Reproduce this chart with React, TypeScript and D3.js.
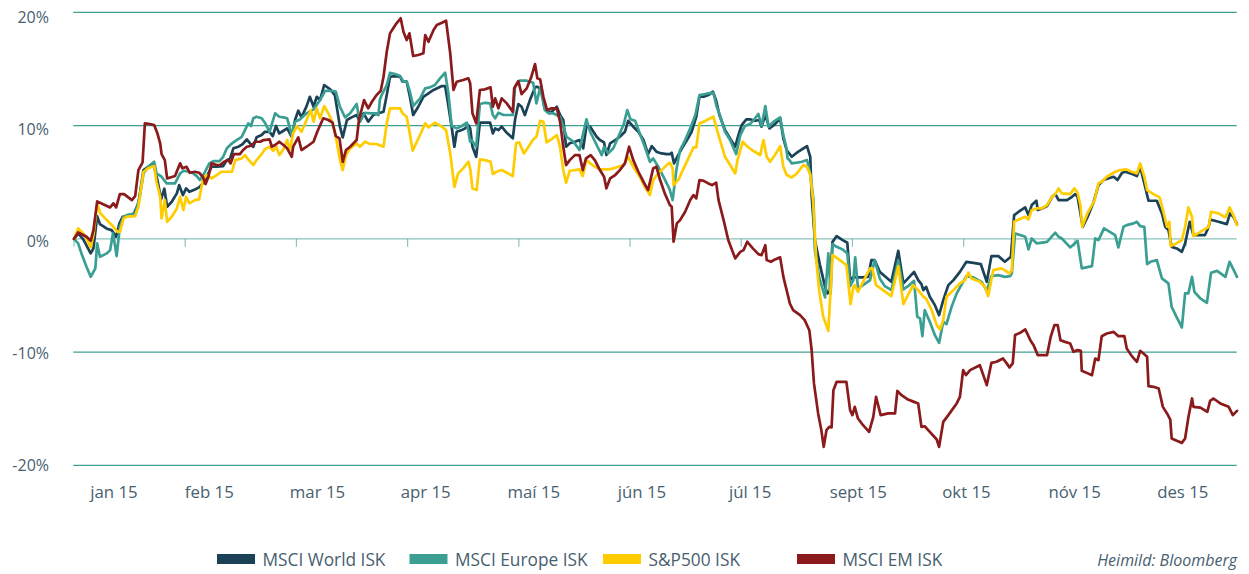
import React from 'react';
import * as d3 from 'd3';

const WIDTH = 1249;
const HEIGHT = 574;

const yTicks = [20, 10, 0, -10, -20];
const monthLabels = ['jan 15', 'feb 15', 'mar 15', 'apr 15', 'maí 15', 'jún 15', 'júl 15', 'sept 15', 'okt 15', 'nóv 15', 'des 15'];
const tickDays = [0, 24, 48, 72, 96, 120, 144, 168, 192, 216, 240];
const seriesNames = ['MSCI World ISK', 'MSCI Europe ISK', 'S&P500 ISK', 'MSCI EM ISK'];
const seriesColors = ['#1b4257', '#3a9f92', '#ffcc00', '#8a1a1b'];
const sourceText = 'Heimild: Bloomberg';

// [trading day, % change]
const msciWorld: [number, number][] = [
  [0,0],[0.9,0.47],[2,-0.06],[3.6,-1.29],[4.2,-0.85],[5,2.0],[5.6,1.3],[7.1,0.89],[8.1,0.77],[9.1,0.18],[9.8,1.36],[10.5,1.95],[12.8,2.09],[13.9,3.13],[15,6.07],[16,6.36],[17.1,6.66],[18,5.19],[18.8,3.48],[19.5,4.42],[20.1,2.83],[21.1,3.27],[22.2,4.01],[22.7,4.74],[23.5,3.86],[24.2,4.45],[24.9,4.15],[26.1,4.36],[27,4.54],[27.8,4.89],[28.3,5.19],[29,5.78],[29.7,6.36],[30.8,6.36],[32.2,6.42],[33,6.95],[33.7,7.1],[34.4,7.99],[35.5,8.13],[36.4,8.37],[37.3,8.78],[38,8.43],[38.7,8.13],[39.4,8.96],[40.5,9.16],[41.2,9.45],[42.2,9.45],
  [42.9,9.07],[43.6,9.96],[44.3,9.31],[45.2,9.54],[46,9.75],[47,9.01],[47.7,10.49],[48.4,11.31],[49.1,10.72],[50.2,11.72],[50.9,12.54],[51.7,11.66],[52.4,12.54],[53.1,12.25],[54,13.58],[55.3,13.2],[56.3,12.69],[57.4,9.9],[58,8.96],[58.9,10.49],[59.9,10.72],[61,10.93],[61.7,10.34],[62.5,11.08],[63.5,10.34],[64.6,10.93],[65.7,11.08],[66.8,11.22],[67.5,12.69],[68.2,14.31],[69.3,14.37],[70.4,14.31],[70.9,13.87],[71.8,13.87],[72.5,12.54],[73.2,10.93],[74.3,11.66],[75.4,12.54],[76.5,12.84],[77.6,13.14],[79.4,13.49],[80.1,13.49],[80.6,12.25],[81.5,9.9],[82.1,8.13],[82.6,9.45],[83.7,9.6],[84.4,9.75],[85.1,10.04],[85.5,9.75],
  [86,8.13],[86.8,7.24],[87.6,10.25],[88.7,10.25],[89.8,10.25],[90.4,9.31],[90.9,9.75],[91.6,9.6],[92.3,9.9],[93.4,9.36],[94.7,8.87],[95.2,10.55],[95.9,11.9],[96.6,11.66],[97.3,10.93],[98.4,12.25],[99.5,13.37],[100,13.43],[100.9,13.14],[101.6,11.52],[102.4,11.22],[103.1,11.22],[104.2,11.66],[104.9,10.93],[105.6,10.49],[106.2,8.13],[107,8.43],[108.1,8.57],[109.1,8.72],[109.9,7.99],[110.6,9.96],[111.4,9.9],[112.1,9.45],[112.8,9.01],[113.5,8.72],[114.4,8.51],[114.9,7.39],[115.7,8.43],[116.8,8.72],[117.8,9.01],[118.9,9.45],[119.6,10.41],[120.7,9.9],[121.8,9.45],[122.9,8.72],[123.9,7.48],[124.7,8.19],[125.7,7.69],[126.8,7.54],[127.9,7.48],[128.6,7.48],
  [129,7.6],[129.5,6.66],[130.2,7.24],[131.2,7.99],[132.3,8.72],[133.3,9.45],[134.3,10.78],[135,12.61],[135.9,12.54],[136.9,12.69],[137.9,12.99],[138.6,12.19],[139.3,10.93],[140.5,9.6],[141.6,8.87],[142.7,8.13],[143.4,9.16],[144.1,10.04],[145.1,10.55],[145.9,10.55],[147,10.42],[147.9,10.49],[148.4,9.9],[149.2,10.93],[150.1,9.75],[151.3,10.13],[152.4,10.64],[153.1,8.87],[153.8,7.84],[154.9,7.24],[156,7.6],[157.1,7.9],[158.2,8.19],[158.9,7.24],[159.2,3.8],[159.9,-0.11],[161,-2.32],[162.1,-4.24],[162.6,-4.82],[163.1,-4.68],[163.7,-0.27],[164.6,0.24],[165.9,-0.11],[166.9,-0.35],[167.5,-3.65],[168.2,-3.36],[168.9,-3.41],[170,-3.41],[171.4,-3.36],[172.1,-1.88],[172.8,-1.88],[173.9,-2.92],[175,-3.3],[176.4,-3.8],[177.9,-1.06],[179,-3.94],[180,-3.5],[181.3,-2.92],[182.2,-3.65],[182.9,-4.0],[183.3,-4.53],[183.9,-4.24],[184.7,-5.12],[185.8,-5.86],[186.7,-6.74],[187.6,-5.42],[188.7,-4.09],[189.8,-3.65],[191.2,-2.92],[192.6,-2.03],[194.1,-2.12],[195.7,-2.23],[197,-3.8],[198,-1.53],[199.5,-1.53],[200.9,-2.03],[202.2,-1.59],
  [202.9,2.09],[203.9,2.39],[205.3,2.77],[206,2.09],[206.7,2.98],[207.7,3.36],[208,2.54],[208.9,2.68],[210,2.89],[211.1,3.71],[211.8,3.95],[212.5,3.42],[214.3,3.42],[215.4,3.71],[216.1,3.95],[216.6,3.71],[217.7,1.06],[218.7,1.89],[220,3.18],[221.1,4.74],[222.2,5.19],[223.3,5.34],[224.4,5.48],[225.2,5.19],[226.2,5.83],[226.9,5.92],[228,5.78],[229.4,5.54],[230.1,6.36],[231,4.89],[231.9,3.36],[233.7,3.36],[234.8,2.24],[235.5,1.06],[236.2,0.77],[236.9,-0.71],[238,-0.85],[239.1,-1.15],[239.8,-0.41],[240.8,1.5],[241.6,0.33],[243.1,0.33],[244.1,0.33],[244.9,1.06],[245.2,1.71],[247,1.5],[248.8,1.3],[249.5,2.24],[250.3,1.89],[251,1.3],
];

const msciEurope: [number, number][] = [
  [0,0],[0.9,-0.41],[1.6,-1.29],[2.7,-2.47],[3.6,-3.36],[4.6,-2.62],[5,-0.41],[5.6,-1.59],[7.1,-1.29],[7.8,-1.0],[8.4,0.47],[8.9,-0.71],[9.2,-1.53],[9.9,1.06],[10.7,1.95],[11.4,2.09],[13.2,2.24],[14.2,3.71],[15,5.78],[16,6.36],[17.3,6.8],[17.8,5.78],[18.9,5.48],[20,4.89],[21.8,4.89],[22.9,5.78],[23.7,6.01],[24.7,5.92],[25.7,5.78],[26.5,5.54],[27.2,5.19],[28.1,5.78],[29.2,6.66],[30.1,6.86],[31.4,6.86],[32.2,7.24],[33,7.99],[34.1,8.43],[35.1,8.72],[36.2,9.01],[36.9,9.6],[37.6,10.19],[38.2,9.96],[38.7,10.64],[39.4,10.78],[40.5,10.64],[41.2,10.25],[42.2,9.45],
  [43.4,11.08],[44.3,10.78],[45.2,10.72],[46,10.64],[47,9.16],[47.7,10.34],[48.8,10.55],[50.2,11.08],[51.7,11.43],[53.1,12.25],[54.2,13.07],[55.6,13.07],[56.5,12.99],[57.4,11.66],[58.5,10.72],[59.6,11.08],[61,11.9],[61.7,10.34],[62.8,11.13],[63.9,11.08],[65,11.08],[65.7,10.93],[66,12.25],[66.4,12.69],[67.5,13.58],[68.2,14.66],[69.3,14.55],[70.4,14.37],[71.1,13.87],[71.8,13.87],[72.5,12.99],[73.2,11.72],[74.7,12.4],[75.8,13.29],[76.8,13.37],[77.9,13.58],[79,14.17],[80.1,14.66],[80.8,12.84],[81.5,9.96],[82.6,9.75],[83.7,9.96],[84.8,10.25],[85.5,8.57],
  [85.8,8.72],[86.8,8.13],[87.6,11.9],[88.7,12.01],[89.8,11.96],[90.4,10.93],[90.9,10.64],[91.6,11.13],[92.7,10.93],[94.7,10.93],[95.2,13.43],[96.2,13.96],[97.7,13.96],[99.1,13.78],[99.8,11.96],[100.6,13.37],[101.6,11.37],[102.4,11.08],[103.4,11.08],[104.9,10.78],[105.6,9.96],[106.3,9.01],[107.8,8.57],[109.1,7.84],[109.9,9.31],[110.6,10.55],[111.4,9.45],[112.8,8.28],[113.9,7.39],[114.4,8.13],[115.3,7.54],[116.4,7.99],[117.8,9.31],[118.7,10.19],[119.4,11.37],[120.1,10.55],[121.1,10.42],[122.1,9.31],[123.2,8.13],[124.3,6.8],[125,7.1],[126.1,6.36],[127.2,5.48],[128.3,4.59],[128.6,4.3],
  [129.2,3.42],[130,6.07],[130.8,7.84],[131.9,8.72],[133,9.75],[134.1,10.93],[135,12.69],[136.2,12.78],[136.9,12.84],[138,12.9],[138.7,11.66],[139.4,10.93],[140.5,9.45],[141.6,8.72],[142.9,7.48],[143.8,9.16],[144.8,9.96],[145.9,10.13],[147,10.64],[147.7,11.02],[148.4,9.96],[149.2,11.72],[149.9,9.9],[151,10.34],[152.4,10.72],[153,9.31],[153.7,8.13],[154,7.1],[154.4,6.95],[154.9,6.66],[156,6.72],[157.1,6.8],[158.2,6.95],[158.9,5.77],[159.6,3.42],[159.9,-1.0],[160.8,-3.36],[162.1,-5.18],[162.8,-1.29],[163.3,-4.82],[163.7,-0.47],[164.6,-0.71],[165.9,-0.94],[166.9,-1.29],[167.5,-4.18],[168.2,-3.65],[168.6,-1.64],[169.2,-4.38],[170.3,-4.09],[171.8,-3.65],[172.8,-1.88],[173.9,-3.5],[175,-4.18],[176.4,-4.53],[177.9,-1.94],[179,-4.47],[180,-4.18],[181.3,-3.71],[182,-6.89],[182.6,-7.03],[183.1,-8.6],[183.6,-6.3],[184.7,-7.33],[185.8,-8.51],[186.7,-9.19],[187.6,-7.33],[188.3,-7.54],[189.4,-6.01],[190.5,-4.82],[191.5,-4.09],[192.6,-3.3],[194.1,-3.41],[195.9,-3.8],[197,-4.59],[198,-3.3],[199.5,-3.21],[200.9,-3.36],[202,-3.3],
  [202.4,-3.06],[203.1,0.47],[204.2,0.33],[205.3,0.18],[206,-0.94],[206.7,0.03],[207.8,-0.41],[210,-0.27],[211.1,0.24],[211.8,0.53],[212.5,0.18],[213.2,0.03],[215,-0.76],[216.6,-0.18],[217.5,-2.61],[219.7,-2.41],[220.4,0.03],[221.1,-0.11],[222.3,0.92],[224.7,0.33],[225.4,-0.76],[226.5,1.06],[227.2,1.21],[228.7,1.36],[229.4,1.5],[230.1,1.12],[231,1.06],[231.6,-2.23],[232.3,-2.03],[233.7,-1.88],[234.8,-3.5],[236.2,-3.94],[236.9,-6.01],[238,-6.94],[239.1,-7.83],[239.8,-4.82],[240.5,-4.82],[241.3,-3.36],[241.8,-4.68],[243.1,-5.27],[244.5,-5.65],[245.4,-3.0],[246.7,-2.83],[248.5,-3.36],[249.4,-2.03],[250.3,-2.77],[251,-3.36],
];

const sp500: [number, number][] = [
  [0,0],[0.9,0.92],[2,0.47],[2.7,0.03],[3.6,-0.76],[4.2,0.33],[5,3.07],[5.7,2.24],[7.1,1.65],[8.5,1.06],[9.4,0.62],[9.9,0.62],[10.7,1.8],[11.4,1.95],[13.2,2.01],[13.9,2.83],[15,5.92],[16,6.22],[17.3,6.42],[17.8,5.04],[18.6,3.71],[18.9,1.8],[19.6,3.42],[20.1,1.5],[21.1,1.95],[22.2,2.68],[22.9,3.71],[23.6,2.54],[24.2,3.71],[24.9,3.13],[26.1,3.42],[27,3.48],[27.8,5.19],[28.6,5.63],[29.7,5.33],[30.8,5.63],[31.8,5.92],[34.1,5.92],[34.8,6.95],[36.2,7.1],[36.9,7.39],[37.6,7.01],[38.7,6.51],[39.4,6.95],[40.5,7.48],[41.2,7.9],[42.2,8.13],
  [43,7.77],[43.7,8.13],[44.3,7.39],[45.2,7.9],[46,8.72],[46.6,7.84],[47.3,9.31],[48.1,9.96],[49.1,9.45],[50.2,10.49],[51.1,11.37],[51.7,10.34],[52.4,11.52],[53.1,10.64],[54,11.72],[54.9,11.08],[55.8,10.25],[56.5,9.01],[57.4,6.95],[58,6.07],[58.7,7.39],[59.6,7.99],[61,8.43],[61.7,8.13],[62.8,8.57],[63.9,8.37],[65.3,8.37],[66.8,8.13],[67.5,10.19],[68.2,11.52],[70.4,11.52],[70.9,11.08],[71.8,10.78],[72.4,9.45],[73.1,7.77],[74,8.57],[75,9.45],[75.8,10.19],[76.5,9.84],[77.9,10.25],[79.4,9.9],[80.3,9.6],[81.2,7.54],[82.1,4.59],[82.9,5.78],[84,6.22],[85.1,6.8],[85.5,6.22],
  [86,4.45],[86.9,4.3],[87.6,7.01],[88.7,6.95],[89.9,6.8],[90.4,5.72],[91.2,5.92],[92.3,6.07],[93.4,5.83],[94.7,5.54],[95.4,8.43],[96.1,8.51],[97.1,7.54],[98.1,8.13],[99,8.72],[99.8,9.01],[100.6,10.42],[101.3,10.34],[102,8.51],[103.1,8.8],[104.2,9.16],[104.9,8.13],[105.6,6.07],[106.2,4.95],[107,6.01],[108.1,6.07],[109.1,6.13],[109.8,5.54],[110.6,7.01],[111.4,6.66],[112.4,6.36],[113.5,6.13],[115.3,6.13],[116.4,6.22],[117.5,6.36],[118.6,6.51],[119.6,7.24],[120.7,6.36],[122.1,5.48],[123.2,4.59],[124.3,3.86],[125,5.19],[126.1,5.78],[127.2,6.22],[128.3,6.66],[128.6,6.72],
  [129.2,6.22],[129.4,4.74],[130.5,5.24],[131.4,6.07],[132.6,7.1],[133.7,8.07],[134.3,8.07],[135,10.19],[135.9,10.34],[136.9,10.55],[138,10.78],[139.1,9.16],[140.5,7.24],[141.6,6.51],[142.7,5.77],[143.2,6.95],[144.3,8.57],[145.2,8.19],[146.3,7.84],[148.1,7.4],[148.8,8.72],[149.5,7.24],[150.2,6.8],[151.3,7.4],[152.4,8.19],[153.1,6.36],[153.8,5.63],[154.9,5.42],[156,5.77],[157.4,6.51],[158.2,6.36],[158.9,5.63],[159.5,3.42],[160.2,-1.88],[160.8,-4.5],[161.7,-6.89],[162.8,-8.13],[163.7,-1.44],[165.3,-1.88],[166.7,-2.32],[167.6,-5.77],[168.2,-4.24],[168.5,-4.09],[169.2,-4.68],[170.3,-3.8],[171.8,-2.61],[172.3,-2.61],[173.1,-4.09],[174.6,-4.53],[176.4,-5.06],[177.9,-2.41],[179,-5.77],[180,-4.97],[181.1,-4.09],[182.2,-4.53],[183.3,-5.12],[183.9,-5.27],[185.1,-6.3],[186.2,-7.62],[186.9,-8.0],[187.6,-7.18],[188.3,-5.12],[189.8,-4.53],[191.2,-3.94],[192.3,-3.65],[193,-3.0],[193.7,-3.5],[195.5,-3.8],[196.6,-4.24],[197.3,-5.06],[198.4,-2.77],[200.2,-2.61],[201.9,-3.06],
  [202.4,-2.77],[202.9,1.5],[203.9,1.71],[205.3,1.94],[206,1.71],[206.7,2.54],[207.7,2.68],[208.9,2.68],[210,2.98],[211.1,3.71],[211.8,3.95],[212.5,4.45],[213.2,4.01],[215,3.95],[215.9,4.45],[216.6,4.06],[217.2,2.98],[217.6,1.06],[218.7,2.24],[220.2,3.36],[221.1,4.89],[221.8,5.04],[222.9,5.48],[224.7,5.92],[225.8,6.07],[227.1,6.13],[228.3,5.92],[229.4,5.78],[230.1,6.66],[231,5.48],[231.6,4.3],[233,3.95],[234.3,3.66],[235.2,2.24],[235.9,1.06],[236.4,1.5],[236.7,-0.64],[237.9,-0.41],[239.1,-0.11],[239.8,1.06],[240.5,2.77],[241.3,1.94],[241.6,0.24],[243.1,0.62],[244.9,1.06],[245.4,2.39],[247,2.24],[248.5,1.89],[249.4,2.77],[250.3,2.01],[251,1.21],
];

const msciEM: [number, number][] = [
  [0,0],[0.9,0.56],[2.7,0.18],[3.6,-0.18],[4.2,0.77],[5,3.3],[7.8,2.77],[8.5,3.13],[9.1,2.77],[9.9,3.95],[10.8,3.95],[12.5,3.42],[13.2,3.77],[13.9,6.07],[14.8,6.75],[15.3,10.19],[16.4,10.13],[17.3,10.04],[18,9.31],[18.6,8.43],[18.9,7.48],[19.6,6.95],[20.1,5.33],[21.8,5.54],[22.9,6.66],[23.4,6.22],[24.3,6.36],[25,5.83],[26.1,5.92],[27,5.83],[27.8,5.48],[28.4,4.83],[29,5.48],[29.7,6.66],[30.8,6.51],[31.5,6.51],[32.4,6.8],[33.3,6.95],[33.8,6.66],[34.5,7.48],[35.8,7.48],[36.5,7.84],[37.3,8.13],[38.3,8.22],[39.1,8.57],[40.2,8.57],[40.9,8.72],[42.2,8.78],
  [42.7,8.13],[43.4,8.28],[44.3,8.57],[45.2,8.28],[46,7.99],[47,7.24],[47.3,8.13],[48.4,8.96],[49.1,7.84],[50.2,8.13],[51.7,8.57],[52.5,9.45],[53.8,10.64],[54.9,10.49],[55.8,10.25],[56.5,9.07],[57.3,8.87],[58,6.8],[58.7,7.84],[59.6,8.13],[61,8.72],[61.5,10.49],[62.6,12.25],[63.5,11.52],[64.3,12.1],[65.3,12.69],[66.2,13.07],[66.8,14.31],[67.5,16.52],[68.2,18.14],[68.9,18.59],[69.6,19.03],[70.5,19.47],[71.1,18.29],[71.8,17.55],[72.4,18.14],[73.2,16.14],[74.3,16.23],[75.4,16.38],[75.8,17.99],[76.5,17.4],[77.6,18.44],[78.3,18.88],[79.4,19.08],[80.3,19.26],[81.2,16.38],[81.9,13.14],[82.6,13.87],[84,14.02],[85.1,14.17],[85.5,13.73],
  [86,11.08],[86.8,10.19],[87.6,13.14],[88.7,13.2],[89.9,13.37],[90.4,11.66],[90.9,12.4],[91.6,11.52],[92.3,12.4],[93.4,11.96],[94.7,11.22],[95,13.29],[95.9,13.93],[96.6,12.78],[97.7,13.29],[98.6,14.17],[99.5,15.43],[100,14.17],[100.6,14.08],[101.3,12.54],[102.1,11.37],[103.1,11.52],[104.2,11.52],[104.9,10.34],[105.6,8.13],[106.2,6.51],[107,6.95],[108.1,7.39],[109.1,7.39],[109.8,6.07],[110.5,7.1],[111.5,7.39],[112.4,6.95],[113.5,6.07],[114.4,5.48],[114.9,4.45],[115.7,5.33],[116.8,5.63],[117.8,6.07],[118.9,6.66],[119.8,8.13],[120.7,6.95],[121.8,5.92],[122.9,5.04],[123.9,4.3],[125,6.22],[125.7,6.36],[126.5,5.19],[127.5,4.01],[128.6,2.98],
  [129,2.83],[129.4,-0.26],[130.1,1.36],[130.8,1.65],[131.9,2.39],[133,3.42],[133.7,3.86],[134.3,3.57],[135,5.19],[135.9,5.12],[136.9,4.89],[137.7,4.74],[138.6,4.95],[139.1,3.42],[140.2,1.65],[141.2,-0.11],[142.7,-1.73],[143.8,-1.15],[144.5,-1.0],[145.3,-0.26],[146.5,-0.85],[147.7,-1.35],[148.4,-1.44],[149.2,-0.56],[149.5,-1.88],[150.4,-2.03],[151.3,-1.82],[152.4,-1.64],[153.1,-3.36],[154.5,-5.71],[155.2,-6.3],[156.7,-6.74],[157.7,-7.18],[158.7,-8.07],[159.2,-9.83],[159.7,-12.77],[160.6,-15.42],[161.3,-16.9],[161.8,-18.37],[162.4,-16.9],[163,-16.61],[163.5,-16.66],[163.9,-13.37],[164.6,-12.63],[166.7,-12.63],[167.5,-15.13],[168,-15.57],[168.5,-14.84],[169.2,-15.87],[170.3,-16.46],[171.6,-17.05],[172.5,-15.72],[173.1,-13.96],[174.1,-15.57],[175.7,-15.42],[177.2,-15.42],[177.7,-13.43],[178.6,-13.81],[180,-14.19],[181.3,-14.4],[182.2,-14.54],[182.9,-16.61],[183.6,-16.55],[184.7,-17.05],[186.2,-17.72],[186.7,-18.37],[187.6,-16.17],[188.7,-15.57],[190.5,-14.54],[191.2,-13.96],[191.9,-11.6],[192.5,-12.04],[193.4,-11.6],[195.5,-11.16],[197,-12.92],[198,-10.95],[199.1,-10.86],[200.5,-10.57],[201.3,-11.0],[201.9,-11.36],
  [202.6,-11.0],[203.1,-8.5],[204.2,-8.3],[205.3,-8.0],[206.4,-8.95],[207.1,-9.39],[208,-10.27],[210,-10.27],[210.8,-8.65],[211.6,-7.62],[212.3,-7.62],[212.9,-8.95],[213.9,-9.1],[215,-9.24],[215.7,-9.98],[216.6,-9.83],[217.3,-9.89],[217.5,-11.66],[218.6,-11.84],[219.7,-12.04],[220.4,-10.57],[221.1,-10.72],[221.8,-8.6],[222.9,-8.36],[224.4,-8.22],[225.4,-8.6],[226.7,-8.6],[227.2,-9.68],[228.3,-10.36],[229.4,-10.86],[230.1,-9.89],[231,-10.19],[231.6,-10.42],[231.9,-13.01],[233,-13.07],[234.1,-13.22],[235,-14.84],[235.9,-15.42],[236.6,-15.96],[236.9,-17.63],[238,-17.84],[239.1,-18.02],[239.8,-17.63],[240.5,-15.78],[241.3,-14.1],[241.6,-14.84],[243.1,-14.9],[244.6,-15.28],[245.2,-14.31],[245.9,-14.1],[247.4,-14.54],[249.2,-14.84],[250.1,-15.57],[251,-15.19],
];

const allSeries = [msciWorld, msciEurope, sp500, msciEM];

const FONT = "'Open Sans', 'Noto Sans', sans-serif";
const TEXT_COLOR = '#47606f';
const GRID_COLOR = '#3f9f92';

export default function App() {
  const x = d3.scaleLinear().domain([0, 251]).range([74, 1237]);
  const y = d3.scaleLinear().domain([-20, 20]).range([465.3, 12.3]);
  // label placement scales
  const yLabel = d3.scaleLinear().domain([-20, 20]).range([465, 17]);
  const xLabel = d3.scaleLinear().domain([1, 10]).range([209.3, 1182.8]);
  const xLabelPos = (i: number) => (i === 0 ? 114 : xLabel(i));

  const line = d3
    .line<[number, number]>()
    .x((d) => x(d[0]))
    .y((d) => y(d[1]));

  const legendSwatchX = [217, 409.5, 603, 797];

  return (
    <svg
      width={WIDTH}
      height={HEIGHT}
      style={{ position: 'absolute', left: 0, top: 0, background: '#fff' }}
      fontFamily={FONT}
    >
      {yTicks.map((v) => (
        <line key={'g' + v} x1={73.3} x2={1236.7} y1={y(v)} y2={y(v)} stroke={GRID_COLOR} strokeWidth={1.2} opacity={v === 0 ? 0.6 : 1} />
      ))}
      {tickDays.map((t) => (
        <line key={'t' + t} x1={x(t)} x2={x(t)} y1={y(0)} y2={y(0) + 8} stroke={GRID_COLOR} strokeWidth={1.2} opacity={0.6} />
      ))}
      {yTicks.map((v) => (
        <text key={'yl' + v} x={49} y={yLabel(v)} textAnchor="end" dominantBaseline="central" fontSize={16} fill={TEXT_COLOR}>
          {v + '%'}
        </text>
      ))}
      {monthLabels.map((m, i) => (
        <text key={m} x={xLabelPos(i)} y={498} textAnchor="middle" fontSize={16.8} fill={TEXT_COLOR}>
          {m}
        </text>
      ))}
      {allSeries.map((s, i) => (
        <path key={seriesNames[i]} d={line(s) || ''} fill="none" stroke={seriesColors[i]} strokeWidth={2.7} strokeLinejoin="round" strokeLinecap="round" />
      ))}
      {seriesNames.map((n, i) => (
        <g key={'lg' + n}>
          <rect x={legendSwatchX[i]} y={554} width={38} height={10} fill={seriesColors[i]} />
          <text x={legendSwatchX[i] + 45.5} y={566} fontSize={17.3} fill={TEXT_COLOR}>
            {n}
          </text>
        </g>
      ))}
      <text x={1237} y={566} textAnchor="end" fontSize={16} fontStyle="italic" fill={TEXT_COLOR}>
        {sourceText}
      </text>
    </svg>
  );
}
